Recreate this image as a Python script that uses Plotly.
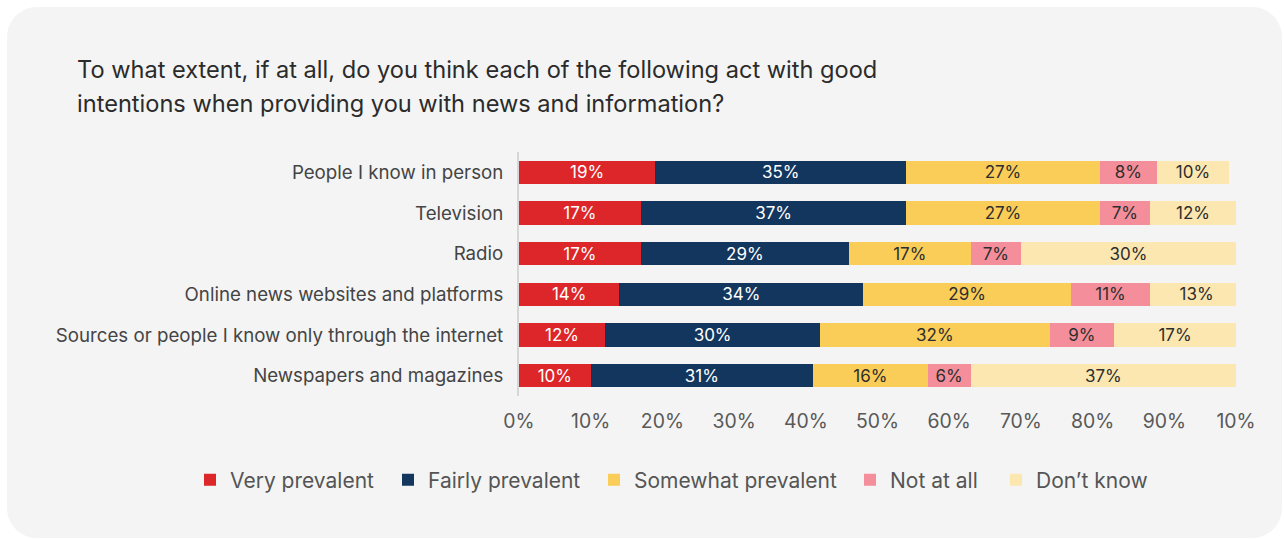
import plotly.graph_objects as go

# Survey data: share of respondents per answer, by source
categories = [
    "People I know in person",
    "Television",
    "Radio",
    "Online news websites and platforms",
    "Sources or people I know only through the internet",
    "Newspapers and magazines",
]
series_names = ["Very prevalent", "Fairly prevalent", "Somewhat prevalent", "Not at all", "Don\u2019t know"]
very_prevalent = [19, 17, 17, 14, 12, 10]
fairly_prevalent = [35, 37, 29, 34, 30, 31]
somewhat_prevalent = [27, 27, 17, 29, 32, 16]
not_at_all = [8, 7, 7, 11, 9, 6]
dont_know = [10, 12, 30, 13, 17, 37]
tick_values = [0, 10, 20, 30, 40, 50, 60, 70, 80, 90, 100]
tick_labels = ["0%", "10%", "20%", "30%", "40%", "50%", "60%", "70%", "80%", "90%", "10%"]

series_values = [very_prevalent, fairly_prevalent, somewhat_prevalent, not_at_all, dont_know]
colors = ["#DC2629", "#13365E", "#F9CD57", "#F38E9A", "#FDE7B1"]
text_colors = ["#FFFFFF", "#FFFFFF", "#2E2E2E", "#2E2E2E", "#2E2E2E"]
legend_widths = [153, 161, 211, 101, 120]

FONT = "Inter, 'Noto Sans', sans-serif"
W, H = 1284, 539
L, R, T, B = 519, 48, 152, 143
PW, PH = W - L - R, H - T - B


def px_x(x):
    return (x - L) / PW


def px_y(y):
    return 1 - (y - T) / PH


fig = go.Figure()
for name, vals, col, tcol, lw in zip(series_names, series_values, colors, text_colors, legend_widths):
    fig.add_trace(go.Bar(
        name=name,
        y=categories,
        x=vals,
        orientation="h",
        marker=dict(color=col, line=dict(width=0)),
        text=[f"{v}%" for v in vals],
        textposition="inside",
        insidetextanchor="middle",
        textangle=0,
        textfont=dict(family=FONT, size=17, color=tcol),
        legendwidth=lw,
        hoverinfo="skip",
    ))

# rounded card behind the chart
x0, x1 = px_x(7), px_x(1282)
y0, y1 = px_y(538), px_y(7)
rx, ry = 30 / PW, 30 / PH
k = 0.45
card = (
    f"M {x0 + rx},{y1} L {x1 - rx},{y1} "
    f"C {x1 - rx * k},{y1} {x1},{y1 - ry * k} {x1},{y1 - ry} "
    f"L {x1},{y0 + ry} "
    f"C {x1},{y0 + ry * k} {x1 - rx * k},{y0} {x1 - rx},{y0} "
    f"L {x0 + rx},{y0} "
    f"C {x0 + rx * k},{y0} {x0},{y0 + ry * k} {x0},{y0 + ry} "
    f"L {x0},{y1 - ry} "
    f"C {x0},{y1 - ry * k} {x0 + rx * k},{y1} {x0 + rx},{y1} Z"
)
fig.add_shape(type="path", path=card, xref="paper", yref="paper",
              fillcolor="#F4F4F4", line=dict(width=0), layer="below")

title_lines = [
    "To what extent, if at all, do you think each of the following act with good",
    "intentions when providing you with news and information?",
]
for i, line in enumerate(title_lines):
    fig.add_annotation(text=line, xref="paper", yref="paper",
                       x=px_x(75), y=px_y(70 + 33 * i), xanchor="left", yanchor="middle",
                       showarrow=False, font=dict(family=FONT, size=23.6, color="#2B2B2B"))

fig.update_layout(
    width=W, height=H,
    margin=dict(l=L, r=R, t=T, b=B, pad=0),
    barmode="stack",
    bargap=0.43,
    paper_bgcolor="#FFFFFF",
    plot_bgcolor="rgba(0,0,0,0)",
    uniformtext=dict(mode="show", minsize=17),
    showlegend=True,
    legend=dict(
        orientation="h",
        x=px_x(190), xanchor="left",
        y=px_y(480), yanchor="middle",
        font=dict(family=FONT, size=21, color="#555555"),
        bgcolor="rgba(0,0,0,0)",
        traceorder="normal",
        itemclick=False, itemdoubleclick=False,
    ),
    xaxis=dict(
        range=[0, 100],
        tickvals=tick_values,
        ticktext=tick_labels,
        showgrid=False, zeroline=False, showline=False,
        ticks="", ticklabelstandoff=12,
        tickfont=dict(family=FONT, size=19.4, color="#595959"),
        fixedrange=True,
    ),
    yaxis=dict(
        categoryorder="array", categoryarray=categories,
        autorange="reversed",
        showgrid=False, zeroline=False,
        showline=True, linecolor="#D6D6D6", linewidth=2,
        ticks="", ticklabelstandoff=10,
        tickfont=dict(family=FONT, size=18.7, color="#444444"),
        fixedrange=True,
    ),
)

fig.write_html("out.html", config={"displayModeBar": False})
